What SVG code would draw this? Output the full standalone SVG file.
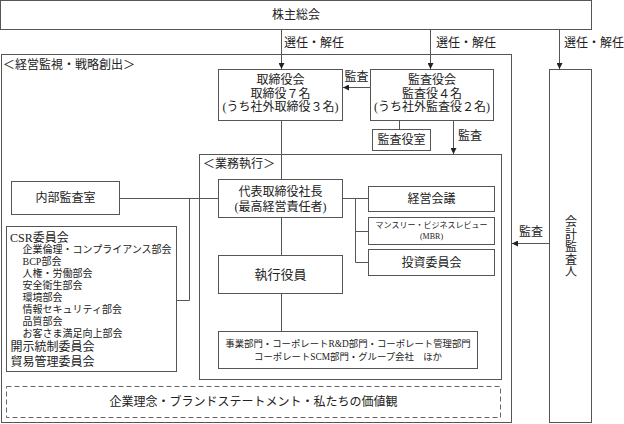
<svg xmlns="http://www.w3.org/2000/svg" width="624" height="424" viewBox="0 0 624 424">
<style>
  .bx{fill:#fff;stroke:#555;stroke-width:1}
  .fr{fill:none;stroke:#555;stroke-width:1}
  .dash{fill:none;stroke:#666;stroke-width:1;stroke-dasharray:5 3}
  .ln{fill:none;stroke:#555;stroke-width:1}
  text{font-family:"Liberation Serif","Noto Sans CJK JP",serif;fill:#222;font-size:12px;dominant-baseline:central}
  .c{text-anchor:middle}
  .s10{font-size:10px}
  .s9{font-size:9.4px}
  .s8{font-size:8px}
  .s13{font-size:13px}
</style>
<defs>
  <marker id="ah" viewBox="0 0 6 6" refX="6" refY="3" markerWidth="6" markerHeight="6" markerUnits="userSpaceOnUse" orient="auto">
    <path d="M0,0 L6,3 L0,6 Z" fill="#222"/>
  </marker>
</defs>
<rect width="624" height="424" fill="#fff"/>

<g id="frames">
  <rect class="fr" x="1.5" y="54.5" width="510" height="368"/>
  <text x="3" y="65">＜経営監視・戦略創出＞</text>
  <rect class="fr" x="199.5" y="154.5" width="302" height="225"/>
  <text x="203" y="164">＜業務執行＞</text>
</g>

<g id="shareholders">
  <rect class="bx" x="0.5" y="0.5" width="591" height="29"/>
  <text class="c" x="296" y="15">株主総会</text>
</g>

<g id="board">
  <rect class="bx" x="218.5" y="69.5" width="124" height="51"/>
  <text class="c" x="280.5" y="80">取締役会</text>
  <text class="c" x="280.5" y="93.5">取締役７名</text>
  <text class="c" x="280.5" y="107">(うち社外取締役３名)</text>
</g>

<g id="auditors">
  <rect class="bx" x="370.5" y="69.5" width="123" height="51"/>
  <text class="c" x="432" y="80">監査役会</text>
  <text class="c" x="432" y="93.5">監査役４名</text>
  <text class="c" x="432" y="107">(うち社外監査役２名)</text>
</g>

<g id="auditors-office">
  <rect class="bx" x="372.5" y="129.5" width="58" height="21"/>
  <text class="c" x="401.5" y="140">監査役室</text>
</g>

<g id="accounting-auditor">
  <rect class="bx" x="549.5" y="69.5" width="42" height="353"/>
  <text class="c" x="571" y="222">会<tspan x="571" y="234.5">計</tspan><tspan x="571" y="247">監</tspan><tspan x="571" y="259.5">査</tspan><tspan x="571" y="272">人</tspan></text>
</g>

<g id="president">
  <rect class="bx" x="218.5" y="179.5" width="124" height="38"/>
  <text class="c" x="280.5" y="192">代表取締役社長</text>
  <text class="c" x="280.5" y="206.5">(最高経営責任者)</text>
</g>

<g id="internal-audit">
  <rect class="bx" x="11.5" y="181.5" width="108" height="33"/>
  <text class="c" x="65.5" y="198">内部監査室</text>
</g>

<g id="management-meeting">
  <rect class="bx" x="368.5" y="186.5" width="126" height="25"/>
  <text class="c" x="431.5" y="199">経営会議</text>
</g>

<g id="mbr">
  <rect class="bx" x="368.5" y="217.5" width="126" height="27"/>
  <text class="c s8" x="431.5" y="225">マンスリー・ビジネスレビュー</text>
  <text class="c s8" x="431.5" y="236">(MBR)</text>
</g>

<g id="investment-committee">
  <rect class="bx" x="368.5" y="249.5" width="126" height="26"/>
  <text class="c" x="431.5" y="262.5">投資委員会</text>
</g>

<g id="officers">
  <rect class="bx" x="218.5" y="255.5" width="124" height="38"/>
  <text class="c s13" x="280.5" y="274.5">執行役員</text>
</g>

<g id="divisions">
  <rect class="bx" x="218.5" y="331.5" width="259" height="37"/>
  <text class="c s9" x="348" y="343.5">事業部門・コーポレートR&amp;D部門・コーポレート管理部門</text>
  <text class="c s9" x="348" y="356.5">コーポレートSCM部門・グループ会社　ほか</text>
</g>

<g id="csr">
  <rect class="bx" x="6.5" y="226.5" width="170" height="145"/>
  <text x="10" y="237.5">CSR委員会</text>
  <text class="s10" x="22.5" y="249">企業倫理・コンプライアンス部会</text>
  <text class="s10" x="22.5" y="261">BCP部会</text>
  <text class="s10" x="22.5" y="273">人権・労働部会</text>
  <text class="s10" x="22.5" y="285">安全衛生部会</text>
  <text class="s10" x="22.5" y="297">環境部会</text>
  <text class="s10" x="22.5" y="309">情報セキュリティ部会</text>
  <text class="s10" x="22.5" y="321">品質部会</text>
  <text class="s10" x="22.5" y="333">お客さま満足向上部会</text>
  <text x="10.5" y="347">開示統制委員会</text>
  <text x="10.5" y="362">貿易管理委員会</text>
</g>

<g id="philosophy">
  <rect class="dash" x="6.5" y="386.5" width="494" height="31"/>
  <text class="c" x="253.5" y="402">企業理念・ブランドステートメント・私たちの価値観</text>
</g>

<g id="connectors">
  <line class="ln" x1="281.5" y1="30" x2="281.5" y2="69" marker-end="url(#ah)"/>
  <line class="ln" x1="430.5" y1="30" x2="430.5" y2="69" marker-end="url(#ah)"/>
  <line class="ln" x1="559.5" y1="30" x2="559.5" y2="69" marker-end="url(#ah)"/>
  <text x="284" y="43">選任・解任</text>
  <text x="436" y="43">選任・解任</text>
  <text x="564" y="43">選任・解任</text>

  <line class="ln" x1="370" y1="87.5" x2="343" y2="87.5" marker-end="url(#ah)"/>
  <text x="344.5" y="77">監査</text>

  <line class="ln" x1="399.5" y1="121" x2="399.5" y2="129"/>

  <line class="ln" x1="453.5" y1="121" x2="453.5" y2="154" marker-end="url(#ah)"/>
  <text x="458" y="136">監査</text>

  <line class="ln" x1="549" y1="243.5" x2="512" y2="243.5" marker-end="url(#ah)"/>
  <text x="519" y="232">監査</text>

  <line class="ln" x1="281.5" y1="121" x2="281.5" y2="179"/>
  <line class="ln" x1="281.5" y1="218" x2="281.5" y2="255"/>
  <line class="ln" x1="281.5" y1="294" x2="281.5" y2="331"/>

  <line class="ln" x1="343" y1="198.5" x2="368" y2="198.5"/>
  <polyline class="ln" points="355.5,198.5 355.5,262.5 368,262.5"/>
  <line class="ln" x1="355.5" y1="231.5" x2="368" y2="231.5"/>

  <line class="ln" x1="120" y1="198.5" x2="218" y2="198.5"/>
  <polyline class="ln" points="189.5,198.5 189.5,300.5 177,300.5"/>
</g>
</svg>
